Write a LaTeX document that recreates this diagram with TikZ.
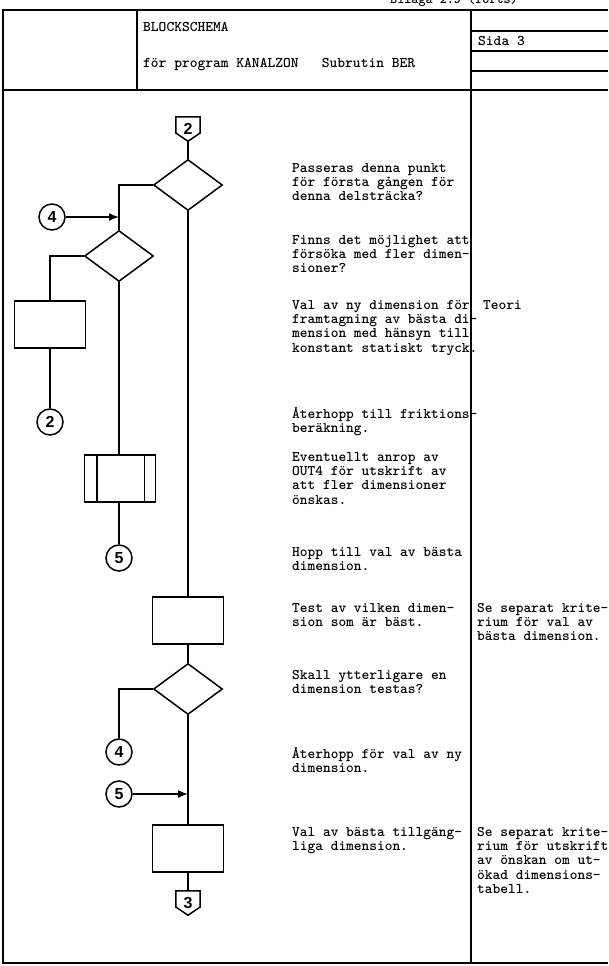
\documentclass[tikz,border=0pt]{standalone}
\usepackage{fontspec}
\newfontfamily\digitfont{Liberation Sans}
\usetikzlibrary{shapes.geometric,arrows.meta,calc}
\begin{document}
\begin{tikzpicture}[x=1pt,y=-1pt,
  frame/.style={line width=1.8pt},
  flow/.style={line width=1.5pt},
  dec/.style={draw, flow, diamond, aspect=1.35, minimum width=69pt, minimum height=51pt, inner sep=0pt},
  proc/.style={draw, flow, rectangle, minimum width=71pt, minimum height=47pt, inner sep=0pt},
  conn/.style={draw, flow, circle, minimum size=26pt, inner sep=0pt, font=\digitfont\bfseries\fontsize{16}{16}\selectfont},
  offp/.style={minimum width=24pt, minimum height=24pt, inner sep=0pt, font=\digitfont\bfseries\fontsize{16}{16}\selectfont},
  arr/.style={flow, -{Latex[length=10pt,width=8pt]}},
  txt/.style={anchor=north west, inner sep=0pt, align=left, font=\ttfamily\bfseries\fontsize{14.7}{14.3}\selectfont},
  lbl/.style={anchor=base west, inner sep=0pt, font=\ttfamily\bfseries\fontsize{14.8}{14.3}\selectfont}
]
\useasboundingbox (0,0) rectangle (608,966);
% ---------- form frame ----------
\draw[frame] (608,10) -- (3,10) -- (3,963) -- (608,963);
\draw[frame] (3,90) -- (608,90);
\draw[frame] (137,10) -- (137,90);
\draw[frame] (471,10) -- (471,963);
\draw[frame] (471,31) -- (608,31);
\draw[frame] (471,51) -- (608,51);
\draw[frame] (471,71) -- (608,71);
% ---------- header texts ----------
\node[lbl, font=\ttfamily\bfseries\fontsize{13.5}{14}\selectfont] (bilaga) at (390,3.5) {Bilaga 2:9 (forts)};
\node[lbl] (h1) at (143,32) {BLOCKSCHEMA};
\node[lbl] (h2) at (143,67) {för program KANALZON\ \ \ Subrutin BER};
\node[lbl] (sida) at (478,46) {Sida 3};
% ---------- flowchart nodes ----------
\node[offp] (c2) at (188,129) {2};
\draw[flow] (c2.north west) -- (c2.north east) -- ($(c2.east)+(0,4)$) -- (c2.south) -- ($(c2.west)+(0,4)$) -- cycle;
\node[dec] (d1) at (188,185) {};
\node[dec] (d2) at (119,256) {};
\node[conn] (k4a) at (52,217) {4};
\node[proc] (r1) at (50,324.5) {};
\node[conn] (k2) at (50,422) {2};
\node[proc] (p) at (120,478.5) {};
\draw[flow] ($(p.north west)+(13,0)$) -- ($(p.south west)+(13,0)$);
\draw[flow] ($(p.north east)+(-12,0)$) -- ($(p.south east)+(-12,0)$);
\node[conn] (k5a) at (119,558) {5};
\node[proc] (r2) at (188,620.5) {};
\node[dec] (d3) at (188,689) {};
\node[conn] (k4b) at (119,752) {4};
\node[conn] (k5b) at (119,794) {5};
\node[proc] (r3) at (188,848.5) {};
\node[offp] (c3) at (188,903) {3};
\draw[flow] (c3.north west) -- (c3.north east) -- ($(c3.east)+(0,4)$) -- (c3.south) -- ($(c3.west)+(0,4)$) -- cycle;
% ---------- connectors ----------
\draw[flow] (c2.south) -- (d1.north);
\draw[flow] (d1.west) -| (d2.north);
\draw[arr] (k4a.east) -- (k4a -| d2.north);
\draw[flow] (d2.west) -| (r1.north);
\draw[flow] (r1.south) -- (k2.north);
\draw[flow] (d2.south) -- (d2.south |- p.north);
\draw[flow] (p.south -| k5a) -- (k5a.north);
\draw[flow] (d1.south) -- (r2.north);
\draw[flow] (r2.south) -- (d3.north);
\draw[flow] (d3.west) -| (k4b.north);
\draw[flow] (d3.south) -- (r3.north);
\draw[arr] (k5b.east) -- (k5b -| d3.south);
\draw[flow] (r3.south) -- (c3.north);
% ---------- description texts ----------
\node[txt] (t1) at (292,162) {\strut Passeras denna punkt\\för första gången för\\denna delsträcka?};
\node[txt] (t2) at (292,234) {\strut Finns det möjlighet att\\försöka med fler dimen-\\sioner?};
\node[txt] (t3) at (292,299) {\strut Val av ny dimension för\\framtagning av bästa di-\\mension med hänsyn till\\konstant statiskt tryck.};
\node[txt] (n3) at (483,299) {\strut Teori};
\node[txt] (t4) at (292,407) {\strut Återhopp till friktions-\\beräkning.};
\node[txt] (t5) at (292,451) {\strut Eventuellt anrop av\\OUT4 för utskrift av\\att fler dimensioner\\önskas.};
\node[txt] (t6) at (292,546) {\strut Hopp till val av bästa\\dimension.};
\node[txt] (t7) at (292,602) {\strut Test av vilken dimen-\\sion som är bäst.};
\node[txt] (n7) at (477,602) {\strut Se separat krite-\\rium för val av\\bästa dimension.};
\node[txt] (t8) at (292,669) {\strut Skall ytterligare en\\dimension testas?};
\node[txt] (t9) at (292,747) {\strut Återhopp för val av ny\\dimension.};
\node[txt] (t10) at (292,826) {\strut Val av bästa tillgäng-\\liga dimension.};
\node[txt] (n10) at (477,826) {\strut Se separat krite-\\rium för utskrift\\av önskan om ut-\\ökad dimensions-\\tabell.};
\end{tikzpicture}
\end{document}
